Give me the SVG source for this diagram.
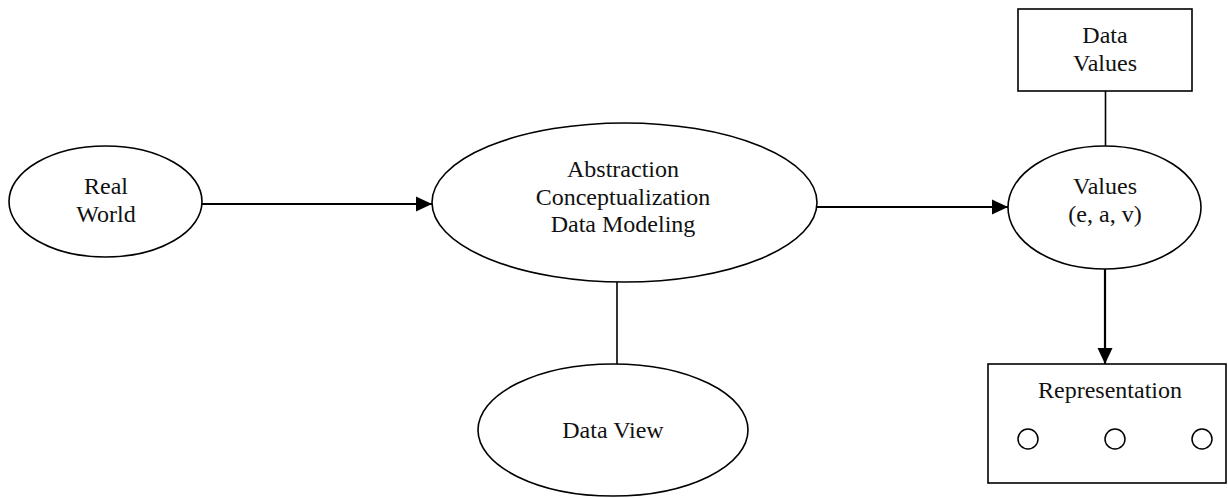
<svg xmlns="http://www.w3.org/2000/svg" width="1228" height="498" viewBox="0 0 1228 498">
  <style>
    .shape { fill: #fff; stroke: #000; stroke-width: 1.6; }
    .dot { fill: none; stroke: #000; stroke-width: 1.5; }
    .lbl { font-family: "Liberation Serif", "Times New Roman", serif; font-size: 24px; fill: #111; text-anchor: middle; }
    .link { fill: none; stroke: #000; stroke-width: 1.6; }
    .flow { fill: none; stroke: #000; stroke-width: 2.2; marker-end: url(#arrow); }
  </style>
  <defs>
    <marker id="arrow" markerUnits="userSpaceOnUse" markerWidth="16" markerHeight="16" viewBox="0 0 16 16" refX="16" refY="8" orient="auto">
      <path d="M0,0.5 L16,8 L0,15.5 Z" fill="#000"/>
    </marker>
  </defs>
  <rect width="1228" height="498" fill="#fff"/>

  <g id="connectors">
    <line class="flow" x1="202" y1="204" x2="432" y2="204"/>
    <line class="flow" x1="817" y1="207" x2="1008" y2="207"/>
    <line class="link" x1="617" y1="282" x2="617" y2="364"/>
    <line class="link" x1="1105.5" y1="91" x2="1105.5" y2="146"/>
    <line class="flow" x1="1105" y1="269" x2="1105" y2="364"/>
  </g>

  <g id="real-world">
    <ellipse class="shape" cx="105.5" cy="201.5" rx="96.5" ry="55.5"/>
    <text class="lbl" x="106" y="194">Real</text>
    <text class="lbl" x="106" y="222">World</text>
  </g>

  <g id="abstraction">
    <ellipse class="shape" cx="624.5" cy="202.5" rx="192.5" ry="79.5"/>
    <text class="lbl" x="623" y="177">Abstraction</text>
    <text class="lbl" x="623" y="205">Conceptualization</text>
    <text class="lbl" x="623" y="232">Data Modeling</text>
  </g>

  <g id="data-view">
    <ellipse class="shape" cx="613" cy="430" rx="135" ry="66"/>
    <text class="lbl" x="613" y="438">Data View</text>
  </g>

  <g id="data-values">
    <rect class="shape" x="1018" y="9" width="174" height="82"/>
    <text class="lbl" x="1105" y="43">Data</text>
    <text class="lbl" x="1105" y="71">Values</text>
  </g>

  <g id="values">
    <ellipse class="shape" cx="1104.5" cy="207.5" rx="96.5" ry="61.5"/>
    <text class="lbl" x="1105" y="194">Values</text>
    <text class="lbl" x="1105" y="222">(e, a, v)</text>
  </g>

  <g id="representation">
    <rect class="shape" x="988" y="364" width="238" height="119"/>
    <text class="lbl" x="1110" y="398">Representation</text>
    <circle class="dot" cx="1028" cy="439" r="10"/>
    <circle class="dot" cx="1115" cy="439" r="10"/>
    <circle class="dot" cx="1202" cy="439" r="10"/>
  </g>
</svg>
